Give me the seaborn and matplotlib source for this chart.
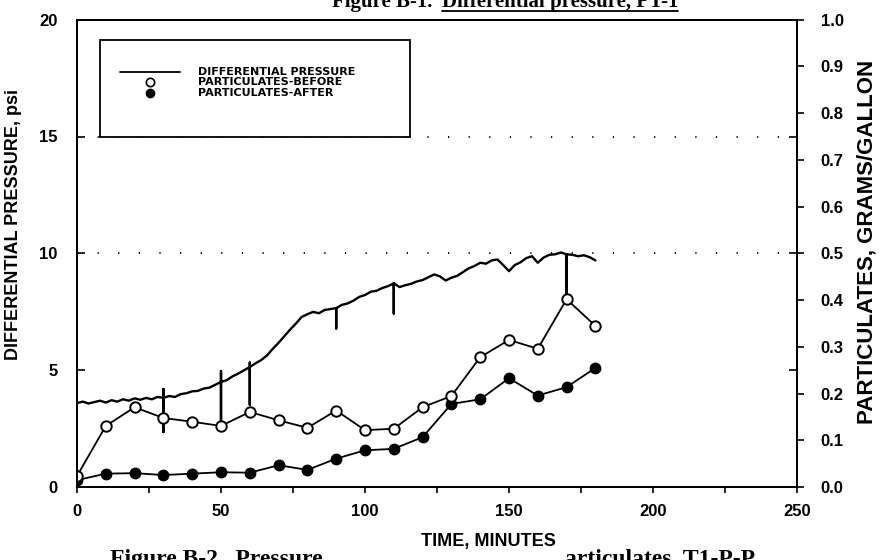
import matplotlib
matplotlib.use("Agg")
import matplotlib.pyplot as plt
import seaborn as sns
import pandas as pd
from matplotlib.patches import Rectangle
from matplotlib.lines import Line2D
from matplotlib.ticker import MultipleLocator, FixedLocator

# Differential pressure trace (psi); repeated times are the short spikes of the recorder pen
pressure_time = [0, 2, 4, 6, 8, 10, 12, 14, 16, 18, 20, 22, 24, 26, 28,
                 30, 30, 30, 30, 32, 34, 36, 38, 40, 42, 44, 46, 48,
                 50, 50, 50, 50, 52, 54, 56, 58,
                 60, 60, 60, 60, 62, 64, 66, 68, 70, 72, 74, 76, 78, 80, 82, 84, 86, 88,
                 90, 90, 90, 92, 94, 96, 98, 100, 102, 104, 106, 108,
                 110, 110, 110, 112, 114, 116, 118, 120, 122, 124, 126, 128, 130, 132, 134,
                 136, 138, 140, 142, 144, 146, 148, 150, 152, 154, 156, 158, 160, 162, 164,
                 166, 168, 170, 170, 170, 172, 174, 176, 178, 180]
pressure_psi = [3.60, 3.66, 3.58, 3.64, 3.70, 3.62, 3.72, 3.66, 3.76, 3.70, 3.80, 3.74, 3.82, 3.76, 3.86,
                3.82, 4.20, 2.36, 3.82, 3.90, 3.86, 3.98, 4.02, 4.10, 4.12, 4.22, 4.26, 4.38,
                4.50, 4.97, 2.60, 4.50, 4.58, 4.74, 4.86, 5.00,
                5.14, 5.33, 3.53, 5.14, 5.30, 5.44, 5.64, 5.92, 6.18, 6.46, 6.74, 7.00, 7.28, 7.40, 7.50, 7.44, 7.58, 7.62,
                7.66, 6.79, 7.66, 7.80, 7.86, 7.98, 8.14, 8.22, 8.36, 8.40, 8.52, 8.60,
                8.72, 7.43, 8.72, 8.56, 8.64, 8.70, 8.80, 8.86, 8.98, 9.10, 9.02, 8.84, 8.96, 9.04, 9.20,
                9.36, 9.46, 9.60, 9.56, 9.70, 9.74, 9.50, 9.24, 9.50, 9.62, 9.80, 9.88, 9.60, 9.82, 9.94,
                9.96, 10.04, 9.96, 8.10, 9.96, 9.94, 9.88, 9.92, 9.84, 9.70]

# Particulate samples (grams/gallon) every 10 minutes
sample_time = [0, 10, 20, 30, 40, 50, 60, 70, 80, 90, 100, 110, 120, 130, 140, 150, 160, 170, 180]
particulates_before = [0.024, 0.131, 0.171, 0.148, 0.140, 0.131, 0.161, 0.143, 0.127, 0.164,
                       0.122, 0.125, 0.171, 0.195, 0.278, 0.315, 0.296, 0.402, 0.345]
particulates_after = [0.015, 0.029, 0.030, 0.026, 0.029, 0.032, 0.031, 0.047, 0.037, 0.061,
                      0.079, 0.082, 0.107, 0.178, 0.188, 0.233, 0.196, 0.214, 0.255]

time_ticks = [0, 50, 100, 150, 200, 250]
psi_ticks = [0, 5, 10, 15, 20]
gal_ticks = [0.0, 0.1, 0.2, 0.3, 0.4, 0.5, 0.6, 0.7, 0.8, 0.9, 1.0]
grid_psi = [10, 15]

legend_labels = ["DIFFERENTIAL PRESSURE", "PARTICULATES-BEFORE", "PARTICULATES-AFTER"]

sns.set_theme(style="ticks")
plt.rcParams["font.family"] = ["Liberation Sans", "DejaVu Sans"]
plt.rcParams["font.weight"] = "bold"
plt.rcParams["axes.linewidth"] = 1.4
plt.rcParams["axes.edgecolor"] = "black"

fig = plt.figure(figsize=(8.83, 5.6), dpi=100)
ax = fig.add_axes([0.0872, 0.130, 0.8154, 0.835])
ax2 = ax.twinx()

pressure = pd.DataFrame({"time": pressure_time, "psi": pressure_psi})
samples = pd.DataFrame({"time": sample_time, "before": particulates_before,
                        "after": particulates_after})

# sparse dotted reference lines
for level in grid_psi:
    ax.axhline(level, color="black", lw=1.4, linestyle=(0, (0.6, 10)), zorder=0.5)

sns.lineplot(data=pressure, x="time", y="psi", ax=ax, sort=False, estimator=None,
             color="black", lw=1.7)

sns.lineplot(data=samples, x="time", y="after", ax=ax2, sort=False, estimator=None,
             color="black", lw=1.3, marker="o", markersize=7.5, markerfacecolor="black",
             markeredgecolor="black", markeredgewidth=1.0)
sns.lineplot(data=samples, x="time", y="before", ax=ax2, sort=False, estimator=None,
             color="black", lw=1.3, marker="o", markersize=7.5, markerfacecolor="white",
             markeredgecolor="black", markeredgewidth=1.4)

ax.set_xlim(0, 250)
ax.set_ylim(0, 20)
ax2.set_ylim(0, 1.0)

ax.xaxis.set_major_locator(FixedLocator(time_ticks))
ax.xaxis.set_minor_locator(MultipleLocator(25))
ax.yaxis.set_major_locator(FixedLocator(psi_ticks))
ax2.yaxis.set_major_locator(FixedLocator(gal_ticks))
ax2.set_yticklabels([f"{v:.1f}" for v in gal_ticks])

ax.tick_params(axis="x", which="both", direction="out", length=4, width=1.2,
               labelsize=12, pad=8, colors="black")
ax.tick_params(axis="y", which="major", direction="in", length=6, width=1.2,
               right=True, labelsize=12, pad=14, colors="black")
ax2.tick_params(axis="y", which="major", direction="out", length=5, width=1.2,
                labelsize=12, pad=12, colors="black")
for lab in ax.get_xticklabels() + ax.get_yticklabels() + ax2.get_yticklabels():
    lab.set_fontweight("bold")

for sp in ax.spines.values():
    sp.set_visible(True)
    sp.set_color("black")

ax.set_xlabel("TIME, MINUTES", fontsize=13, fontweight="bold", color="black")
ax.xaxis.set_label_coords(0.572, -0.097)
ax.set_ylabel("DIFFERENTIAL PRESSURE, psi", fontsize=13, fontweight="bold", color="black")
ax.yaxis.set_label_coords(-0.076, 0.561)
ax2.set_ylabel("PARTICULATES, GRAMS/GALLON", fontsize=16, fontweight="bold", color="black")
ax2.yaxis.set_label_coords(1.083, 0.525)

# legend box drawn by hand in axes coordinates
box = Rectangle((0.032, 0.749), 0.431, 0.208, transform=ax2.transAxes,
                facecolor="white", edgecolor="black", lw=1.3, zorder=5)
ax2.add_patch(box)
ax2.add_line(Line2D([0.060, 0.143], [0.889, 0.889], transform=ax2.transAxes,
                    color="black", lw=1.3, zorder=6))
ax2.add_line(Line2D([0.101], [0.866], transform=ax2.transAxes, marker="o",
                    markersize=6, markerfacecolor="white", markeredgecolor="black",
                    markeredgewidth=1.2, lw=0, zorder=6))
ax2.add_line(Line2D([0.101], [0.843], transform=ax2.transAxes, marker="o",
                    markersize=6, markerfacecolor="black", markeredgecolor="black",
                    lw=0, zorder=6))
for ypos, text in zip([0.889, 0.866, 0.843], legend_labels):
    ax2.text(0.168, ypos, text, transform=ax2.transAxes, fontsize=8,
             family=["DejaVu Sans"], fontweight="bold", va="center", ha="left",
             color="black", zorder=7)

# document headings around the figure
serif = ["Liberation Serif", "DejaVu Serif"]
fig.text(432 / 883, 1 - 7 / 560, "Figure B-1.", family=serif, fontsize=15,
         fontweight="bold", ha="right", va="baseline", color="black")
heading = fig.text(442 / 883, 1 - 7 / 560, "Differential pressure, PT-1", family=serif,
                   fontsize=15, fontweight="bold", ha="left", va="baseline", color="black")
fig.canvas.draw()
bb = heading.get_window_extent().transformed(fig.transFigure.inverted())
fig.add_artist(Line2D([bb.x0, bb.x1], [1 - 11 / 560, 1 - 11 / 560],
                      transform=fig.transFigure, color="black", lw=1.3))

fig.text(110 / 883, 1 - 549 / 560, "Figure B-2.  Pressure", family=serif, fontsize=17,
         fontweight="bold", ha="left", va="top", color="black")
fig.text(565 / 883, 1 - 549 / 560, "articulates, T1-P-P", family=serif, fontsize=17,
         fontweight="bold", ha="left", va="top", color="black")

fig.savefig("out.png", dpi=100, facecolor="white")
